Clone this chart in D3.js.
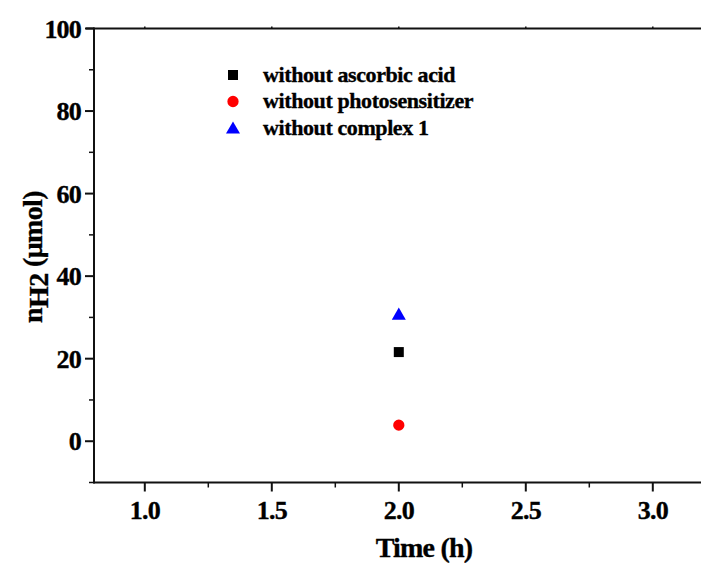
<!DOCTYPE html>
<html>
<head>
<meta charset="utf-8">
<script src="https://cdn.jsdelivr.net/npm/d3@7"></script>
<style>
  html, body { margin: 0; padding: 0; background: #fff; }
  svg { display: block; }
  text { font-family: "Liberation Serif", "Times New Roman", serif; font-weight: bold; fill: #000; stroke: #000; stroke-width: 0.35px; }
</style>
</head>
<body>
<svg id="chart" width="701" height="563"></svg>
<script>
// Control experiments: hydrogen evolved after 2 h
const seriesNames = ["without ascorbic acid", "without photosensitizer", "without complex 1"];
const seriesTime = [2.0, 2.0, 2.0];
const seriesH2 = [21.6, 3.9, 30.8];
const seriesColors = ["#000000", "#ff0000", "#0000ff"];
const seriesSymbols = ["square", "circle", "triangle"];
const xTicks = [1.0, 1.5, 2.0, 2.5, 3.0];
const yTicks = [0, 20, 40, 60, 80, 100];

const svg = d3.select("#chart");
const x = d3.scaleLinear().domain([0.8, 3.2]).range([94, 703.6]);
const y = d3.scaleLinear().domain([-10, 100]).range([482.5, 28.5]);

const symbolType = { square: d3.symbolSquare, circle: d3.symbolCircle, triangle: d3.symbolTriangle };
const symbolSize = { square: 100, circle: 100, triangle: 85 };

const axisColor = "#111";

// minor tick values
const xMinor = d3.range(0.75, 3.3, 0.25).filter(v => v > 0.8 && Math.abs((v * 2) - Math.round(v * 2)) > 1e-6);
const yMinor = d3.range(-10, 101, 20).filter(v => v >= -10 && v <= 100 && v % 20 !== 0);

// bottom axis
const gx = svg.append("g").attr("transform", `translate(0,${y(-10)})`);
gx.append("line").attr("x1", x(0.8) - 0.5).attr("x2", 701).attr("y1", 0).attr("y2", 0)
  .attr("stroke", axisColor).attr("stroke-width", 2);
gx.selectAll(".maj").data(xTicks).join("line")
  .attr("x1", d => x(d)).attr("x2", d => x(d)).attr("y1", 0).attr("y2", 9)
  .attr("stroke", axisColor).attr("stroke-width", 2);
gx.selectAll(".min").data(xMinor).join("line")
  .attr("x1", d => x(d)).attr("x2", d => x(d)).attr("y1", 0).attr("y2", 5)
  .attr("stroke", axisColor).attr("stroke-width", 1.5);
gx.selectAll("text").data(xTicks).join("text")
  .attr("x", d => x(d)).attr("y", 36)
  .attr("text-anchor", "middle").attr("font-size", 26)
  .attr("letter-spacing", -0.8)
  .text(d3.format(".1f"));

// top axis
const gt = svg.append("g").attr("transform", `translate(0,${y(100)})`);
gt.append("line").attr("x1", x(0.8) - 8).attr("x2", 701).attr("y1", 0).attr("y2", 0)
  .attr("stroke", axisColor).attr("stroke-width", 2);
gt.selectAll(".maj").data(xTicks).join("line")
  .attr("x1", d => x(d)).attr("x2", d => x(d)).attr("y1", 0).attr("y2", -2)
  .attr("stroke", axisColor).attr("stroke-width", 1.5);

// left axis
const gy = svg.append("g").attr("transform", `translate(${x(0.8)},0)`);
gy.append("line").attr("x1", 0).attr("x2", 0).attr("y1", y(100) - 1).attr("y2", y(-10) + 1)
  .attr("stroke", axisColor).attr("stroke-width", 2);
gy.selectAll(".maj").data(yTicks).join("line")
  .attr("x1", -9).attr("x2", 0).attr("y1", d => y(d)).attr("y2", d => y(d))
  .attr("stroke", axisColor).attr("stroke-width", 2);
gy.selectAll(".min").data(yMinor).join("line")
  .attr("x1", -5).attr("x2", 0).attr("y1", d => y(d)).attr("y2", d => y(d))
  .attr("stroke", axisColor).attr("stroke-width", 1.5);
gy.selectAll("text").data(yTicks).join("text")
  .attr("x", -13).attr("y", d => y(d) + 9)
  .attr("text-anchor", "end").attr("font-size", 26)
  .attr("letter-spacing", -0.8)
  .text(d => d);

// axis titles
svg.append("text").attr("x", 424).attr("y", 557)
  .attr("text-anchor", "middle").attr("font-size", 28)
  .attr("letter-spacing", -0.8)
  .text("Time (h)");

const yt = svg.append("text")
  .attr("transform", "translate(42,257) rotate(-90)")
  .attr("text-anchor", "middle").attr("font-size", 28).attr("letter-spacing", -0.6);
yt.append("tspan").text("n");
yt.append("tspan").attr("dy", 6).text("H2");
yt.append("tspan").attr("dy", -6).text(" (\u03bcmol)");

// data points
svg.append("g").selectAll("path").data(seriesH2).join("path")
  .attr("transform", (d, i) => `translate(${x(seriesTime[i])},${y(d) + (seriesSymbols[i] === "triangle" ? 1.5 : 0)})`)
  .attr("d", (d, i) => d3.symbol().type(symbolType[seriesSymbols[i]]).size(symbolSize[seriesSymbols[i]])())
  .attr("fill", (d, i) => seriesColors[i]);

// legend
const legend = svg.append("g").attr("transform", "translate(233,75)");
const rows = legend.selectAll("g").data(seriesNames).join("g")
  .attr("transform", (d, i) => `translate(0,${i * 26.5})`);
rows.append("path")
  .attr("transform", (d, i) => `translate(0,${seriesSymbols[i] === "triangle" ? 1.5 : 0})`)
  .attr("d", (d, i) => d3.symbol().type(symbolType[seriesSymbols[i]]).size(symbolSize[seriesSymbols[i]])())
  .attr("fill", (d, i) => seriesColors[i]);
rows.append("text").attr("x", 30).attr("y", 6.5)
  .attr("font-size", 22).attr("letter-spacing", -0.4)
  .text(d => d);
</script>
</body>
</html>
